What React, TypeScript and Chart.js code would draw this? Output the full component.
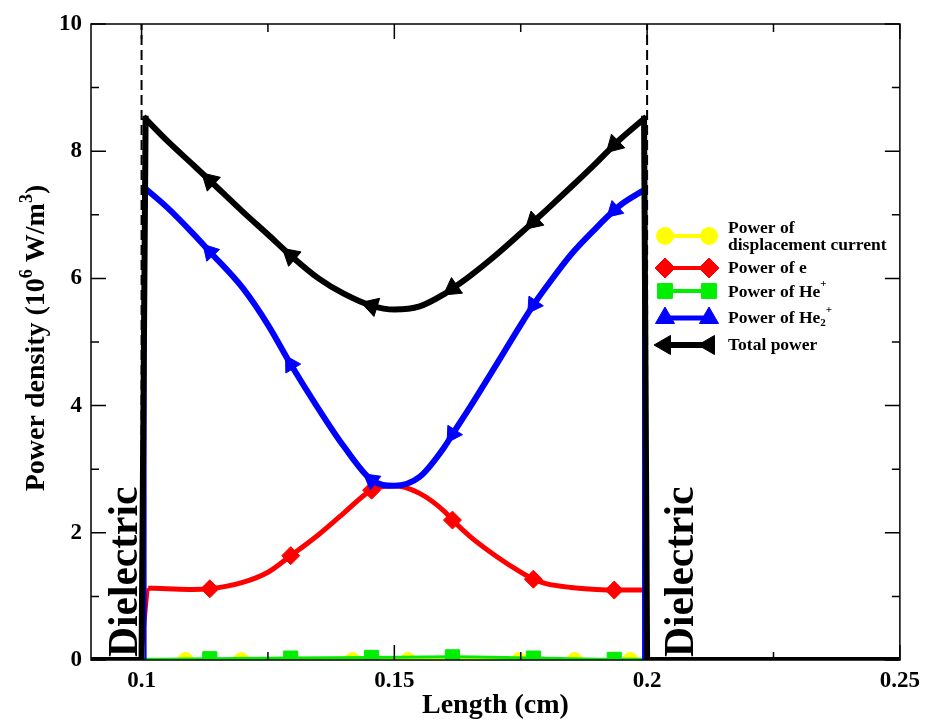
import React, { useEffect, useRef } from 'react';
import { Chart, registerables } from 'chart.js';
import { drawPoint } from 'chart.js/helpers';

Chart.register(...registerables);

const SERIF = '"Liberation Serif", "Times New Roman", Times, serif';

// ---- axis ticks ----
const xTickValues = [0.1, 0.15, 0.2, 0.25];
const xTickLabels = ['0.1', '0.15', '0.2', '0.25'];
const xMinorValues = [0.125, 0.175, 0.225];
const yTickValues = [0, 2, 4, 6, 8, 10];
const yTickLabels = ['0', '2', '4', '6', '8', '10'];
const yMinorValues = [1, 3, 5, 7, 9];
const xRange = [0.09, 0.25];
const yRange = [0, 10];

// ---- dielectric boundaries ----
const boundaryX = [0.1, 0.2];
const dielectricLabel = 'Dielectric';

// ---- total power ----
const totalX = [0.1008, 0.105, 0.11, 0.1135, 0.12, 0.125, 0.1295, 0.135, 0.14, 0.1455, 0.15, 0.155, 0.16, 0.1615, 0.165, 0.17, 0.175, 0.1775, 0.18, 0.185, 0.19, 0.1935, 0.195, 0.1994];
const totalY = [8.51, 8.17, 7.8, 7.54, 7.05, 6.69, 6.36, 6.0, 5.76, 5.57, 5.51, 5.56, 5.76, 5.84, 6.04, 6.36, 6.71, 6.89, 7.07, 7.44, 7.82, 8.1, 8.21, 8.51];
const totalEdgeX = [0.09, 0.1, 0.1008, 0.1994, 0.2, 0.25];
const totalEdgeY = [0, 0, 8.51, 8.51, 0, 0];
const totalMarkers = [0.1135, 0.1295, 0.1455, 0.1615, 0.1775, 0.1935];

// ---- power of He2+ ----
const he2X = [0.1008, 0.105, 0.11, 0.1135, 0.12, 0.125, 0.1295, 0.135, 0.14, 0.1455, 0.15, 0.155, 0.16, 0.1615, 0.165, 0.17, 0.175, 0.1775, 0.18, 0.185, 0.19, 0.1935, 0.195, 0.1992];
const he2Y = [7.41, 7.12, 6.72, 6.42, 5.85, 5.27, 4.65, 3.95, 3.36, 2.83, 2.74, 2.88, 3.36, 3.55, 3.98, 4.62, 5.27, 5.58, 5.86, 6.38, 6.8, 7.07, 7.17, 7.38];
const he2EdgeX = [0.1008, 0.1008, 0.1992, 0.1992];
const he2EdgeY = [0, 7.41, 7.38, 0];
const he2Markers = [0.1135, 0.1295, 0.1455, 0.1615, 0.1775, 0.1935];

// ---- power of e ----
const eX = [0.1013, 0.105, 0.11, 0.1135, 0.12, 0.125, 0.1295, 0.135, 0.14, 0.1455, 0.15, 0.155, 0.16, 0.1615, 0.165, 0.17, 0.175, 0.1775, 0.18, 0.185, 0.19, 0.1935, 0.1993];
const eY = [1.13, 1.12, 1.11, 1.12, 1.22, 1.38, 1.64, 1.97, 2.31, 2.67, 2.74, 2.62, 2.33, 2.2, 1.94, 1.64, 1.38, 1.27, 1.2, 1.14, 1.11, 1.1, 1.1];
const eEdgeX = [0.1, 0.1013, 0.1993, 0.1999];
const eEdgeY = [0, 1.13, 1.1, 0];
const eMarkers = [0.1135, 0.1295, 0.1455, 0.1615, 0.1775, 0.1935];

// ---- power of He+ ----
const heX = [0.1, 0.1135, 0.1295, 0.1455, 0.1615, 0.1775, 0.1935, 0.2];
const heY = [0.01, 0.02, 0.03, 0.04, 0.05, 0.03, 0.01, 0.01];
const heMarkers = [0.1135, 0.1295, 0.1455, 0.1615, 0.1775, 0.1935];

// ---- power of displacement current ----
const dispX = [0.1, 0.1087, 0.1197, 0.1417, 0.1527, 0.1747, 0.1857, 0.1967, 0.2];
const dispY = [0, 0, 0, 0, 0, 0, 0, 0, 0];
const dispMarkers = [0.1087, 0.1197, 0.1417, 0.1527, 0.1747, 0.1857, 0.1967];

// ---- text ----
const xTitle = 'Length (cm)';
type Part = { t: string; sup?: boolean; sub?: boolean };
const yTitleParts: Part[] = [{ t: 'Power density (10' }, { t: '6', sup: true }, { t: ' W/m' }, { t: '3', sup: true }, { t: ')' }];
const legendLabels: Part[][][] = [
  [[{ t: 'Power of' }], [{ t: 'displacement current' }]],
  [[{ t: 'Power of e' }]],
  [[{ t: 'Power of He' }, { t: '+', sup: true }]],
  [[{ t: 'Power of He' }, { t: '2', sub: true }, { t: '+', sup: true }]],
  [[{ t: 'Total power' }]],
];

const YELLOW = '#ffff00';
const RED = '#ff0000';
const GREEN = '#00ee00';
const BLUE = '#0000ff';
const BLACK = '#000000';

const pts = (xs: number[], ys: number[]) => xs.map((x, i) => ({ x, y: ys[i] }));
const withGap = (xs: number[], ys: number[], split: number) => [
  ...pts(xs.slice(0, split), ys.slice(0, split)),
  { x: 0.15, y: null as any },
  ...pts(xs.slice(split), ys.slice(split)),
];

const markerRadius = (markers: number[], r: number) => (ctx: any) =>
  ctx.raw && markers.includes(ctx.raw.x) ? r : 0;

const along = (ctx: any) => {
  if (ctx.type !== 'data') return 0;
  const data = ctx.dataset.data;
  const i = ctx.dataIndex;
  const a = data[Math.max(0, i - 1)];
  const b = data[Math.min(data.length - 1, i + 1)];
  const sx = ctx.chart.scales.x;
  const sy = ctx.chart.scales.y;
  if (!sx || !sy) return 0;
  const dx = sx.getPixelForValue(a.x) - sx.getPixelForValue(b.x);
  const dy = sy.getPixelForValue(a.y) - sy.getPixelForValue(b.y);
  return (Math.atan2(dx, -dy) * 180) / Math.PI;
};

function drawRich(ctx: CanvasRenderingContext2D, parts: Part[], x: number, y: number, size: number) {
  let cx = x;
  for (const p of parts) {
    const small = p.sup || p.sub;
    const fs = small ? Math.round(size * 0.65) : size;
    ctx.font = `bold ${fs}px ${SERIF}`;
    const dy = p.sup ? -size * 0.42 : p.sub ? size * 0.3 : 0;
    ctx.fillText(p.t, cx, y + dy);
    cx += ctx.measureText(p.t).width;
  }
  return cx - x;
}
function measureRich(ctx: CanvasRenderingContext2D, parts: Part[], size: number) {
  let w = 0;
  for (const p of parts) {
    const small = p.sup || p.sub;
    const fs = small ? Math.round(size * 0.65) : size;
    ctx.font = `bold ${fs}px ${SERIF}`;
    w += ctx.measureText(p.t).width;
  }
  return w;
}

const decorPlugin = {
  id: 'decor',
  afterDatasetsDraw(chart: any) {
    const ctx: CanvasRenderingContext2D = chart.ctx;
    const { left, right, top, bottom } = chart.chartArea;
    const sx = chart.scales.x;
    const sy = chart.scales.y;
    ctx.save();
    // frame
    ctx.strokeStyle = '#000';
    ctx.lineWidth = 1.5;
    ctx.strokeRect(left, top, right - left, bottom - top);
    // ticks (inward, mirrored)
    ctx.lineWidth = 1.5;
    ctx.beginPath();
    const major = 15;
    const minor = 8;
    xTickValues.forEach((v) => {
      const px = sx.getPixelForValue(v);
      ctx.moveTo(px, bottom); ctx.lineTo(px, bottom - major);
      ctx.moveTo(px, top); ctx.lineTo(px, top + major);
    });
    xMinorValues.forEach((v) => {
      const px = sx.getPixelForValue(v);
      ctx.moveTo(px, bottom); ctx.lineTo(px, bottom - minor);
      ctx.moveTo(px, top); ctx.lineTo(px, top + minor);
    });
    yTickValues.forEach((v) => {
      const py = sy.getPixelForValue(v);
      ctx.moveTo(left, py); ctx.lineTo(left + major, py);
      ctx.moveTo(right, py); ctx.lineTo(right - major, py);
    });
    yMinorValues.forEach((v) => {
      const py = sy.getPixelForValue(v);
      ctx.moveTo(left, py); ctx.lineTo(left + minor, py);
      ctx.moveTo(right, py); ctx.lineTo(right - minor, py);
    });
    ctx.stroke();

    ctx.fillStyle = '#000';
    // Dielectric labels
    ctx.font = `bold 41.5px ${SERIF}`;
    ctx.textAlign = 'left';
    ctx.textBaseline = 'alphabetic';
    [
      { x: sx.getPixelForValue(boundaryX[0]) - 5 },
      { x: sx.getPixelForValue(boundaryX[1]) + 46 },
    ].forEach((d) => {
      ctx.save();
      ctx.translate(d.x, bottom - 3);
      ctx.rotate(-Math.PI / 2);
      ctx.fillText(dielectricLabel, 0, 0);
      ctx.restore();
    });

    // x title
    ctx.font = `bold 28px ${SERIF}`;
    ctx.textAlign = 'center';
    ctx.fillText(xTitle, (left + right) / 2, 713);

    // y title
    ctx.textAlign = 'left';
    const wy = measureRich(ctx, yTitleParts, 28);
    ctx.save();
    ctx.translate(44, (top + bottom) / 2 - 4);
    ctx.rotate(-Math.PI / 2);
    drawRich(ctx, yTitleParts, -wy / 2, 0, 28);
    ctx.restore();

    // legend
    const rows = [
      { y: 236, color: YELLOW, style: 'circle', r: 8.5, rot: 0, lw: 4, ty: [228, 245] },
      { y: 268, color: RED, style: 'rectRot', r: 10, rot: 0, lw: 4, ty: [268] },
      { y: 291, color: GREEN, style: 'rect', r: 10.5, rot: 0, lw: 4, ty: [292] },
      { y: 318, color: BLUE, style: 'triangle', r: 11, rot: 0, lw: 5, ty: [318] },
      { y: 345, color: BLACK, style: 'triangle', r: 11, rot: -90, lw: 6, ty: [345] },
    ];
    const x0 = 665;
    const x1 = 709;
    rows.forEach((row, i) => {
      ctx.strokeStyle = row.color;
      ctx.fillStyle = row.color;
      ctx.lineWidth = row.lw;
      ctx.beginPath();
      ctx.moveTo(x0, row.y);
      ctx.lineTo(x1, row.y);
      ctx.stroke();
      ctx.lineWidth = 1;
      [x0, x1].forEach((px) =>
        drawPoint(ctx, { pointStyle: row.style as any, rotation: row.rot, radius: row.r, borderWidth: 1 } as any, px, row.y)
      );
      ctx.fillStyle = '#000';
      ctx.textBaseline = 'middle';
      legendLabels[i].forEach((line, j) => drawRich(ctx, line, 728, row.ty[j], 17.5));
    });
    ctx.restore();
  },
};

export default function App() {
  const ref = useRef<HTMLCanvasElement>(null);
  useEffect(() => {
    const canvas = ref.current!;
    const tickFont = { family: SERIF, size: 23, weight: 'bold' as const };
    const common = { fill: false, pointBorderWidth: 1, pointHoverRadius: 0 } as any;
    const chart = new Chart(canvas, {
      type: 'line',
      data: {
        datasets: [
          {
            ...common,
            label: 'boundaries',
            data: [
              { x: boundaryX[0], y: yRange[0] }, { x: boundaryX[0], y: yRange[1] },
              { x: 0.15, y: null as any },
              { x: boundaryX[1], y: yRange[0] }, { x: boundaryX[1], y: yRange[1] },
            ],
            borderColor: '#000', borderWidth: 2, borderDash: [10, 5], pointRadius: 0, tension: 0, order: 10,
          },
          {
            ...common,
            label: 'Power of displacement current',
            data: pts(dispX, dispY),
            borderColor: YELLOW, backgroundColor: YELLOW, borderWidth: 4,
            cubicInterpolationMode: 'monotone',
            pointStyle: 'circle', pointRadius: markerRadius(dispMarkers, 7.5),
            pointBackgroundColor: YELLOW, pointBorderColor: YELLOW, order: 9,
          },
          {
            ...common,
            label: 'Power of He+',
            data: pts(heX, heY),
            borderColor: GREEN, backgroundColor: GREEN, borderWidth: 3,
            cubicInterpolationMode: 'monotone',
            pointStyle: 'rect', pointRadius: markerRadius(heMarkers, 10),
            pointBackgroundColor: GREEN, pointBorderColor: GREEN, order: 8,
          },
          {
            ...common,
            label: 'e edges',
            data: withGap(eEdgeX, eEdgeY, 2),
            borderColor: RED, borderWidth: 3, pointRadius: 0, tension: 0, order: 7,
          },
          {
            ...common,
            label: 'Power of e',
            data: pts(eX, eY),
            borderColor: RED, backgroundColor: RED, borderWidth: 5,
            cubicInterpolationMode: 'monotone',
            pointStyle: 'rectRot', pointRadius: markerRadius(eMarkers, 9),
            pointBackgroundColor: RED, pointBorderColor: RED, order: 6,
          },
          {
            ...common,
            label: 'He2 edges',
            data: withGap(he2EdgeX, he2EdgeY, 2),
            borderColor: BLUE, borderWidth: 2, pointRadius: 0, tension: 0, order: 5,
          },
          {
            ...common,
            label: 'Power of He2+',
            data: pts(he2X, he2Y),
            borderColor: BLUE, backgroundColor: BLUE, borderWidth: 6,
            cubicInterpolationMode: 'monotone',
            pointStyle: 'triangle', pointRadius: markerRadius(he2Markers, 10),
            pointRotation: along,
            pointBackgroundColor: BLUE, pointBorderColor: BLUE, order: 4,
          },
          {
            ...common,
            label: 'total edges',
            data: withGap(totalEdgeX, totalEdgeY, 3),
            borderColor: BLACK, borderWidth: 6, pointRadius: 0, tension: 0,
            borderJoinStyle: 'miter', borderCapStyle: 'square', order: 2,
          },
          {
            ...common,
            label: 'Total power',
            data: pts(totalX, totalY),
            borderColor: BLACK, backgroundColor: BLACK, borderWidth: 6,
            cubicInterpolationMode: 'monotone', borderCapStyle: 'square',
            pointStyle: 'triangle', pointRadius: markerRadius(totalMarkers, 11),
            pointRotation: along,
            pointBackgroundColor: BLACK, pointBorderColor: BLACK, order: 1,
          },
        ] as any,
      },
      options: {
        animation: false,
        responsive: false,
        devicePixelRatio: 1,
        events: [],
        spanGaps: false,
        layout: { padding: { left: 0, top: 24, right: 27, bottom: 0 } },
        plugins: { legend: { display: false }, tooltip: { enabled: false }, title: { display: false } },
        scales: {
          x: {
            type: 'linear',
            min: xRange[0],
            max: xRange[1],
            grid: { display: false, drawTicks: false },
            border: { display: false },
            afterBuildTicks: (s: any) => { s.ticks = xTickValues.map((value) => ({ value })); },
            afterFit: (s: any) => { s.height = 64; },
            ticks: {
              autoSkip: false, maxRotation: 0, color: '#000', font: tickFont, padding: 7,
              callback: (v: any) => xTickLabels[xTickValues.indexOf(Number(v))] ?? '',
            },
          },
          y: {
            type: 'linear',
            min: yRange[0],
            max: yRange[1],
            grid: { display: false, drawTicks: false },
            border: { display: false },
            afterBuildTicks: (s: any) => { s.ticks = yTickValues.map((value) => ({ value })); },
            afterFit: (s: any) => { s.width = 91; },
            ticks: {
              autoSkip: false, color: '#000', font: tickFont, padding: 9,
              callback: (v: any) => yTickLabels[yTickValues.indexOf(Number(v))] ?? '',
            },
          },
        },
      } as any,
      plugins: [decorPlugin],
    });
    return () => chart.destroy();
  }, []);
  return (
    <div style={{ position: 'absolute', left: 0, top: 0, width: 927, height: 724, background: '#fff' }}>
      <canvas ref={ref} width={927} height={724} style={{ display: 'block', width: 927, height: 724 }} />
    </div>
  );
}
